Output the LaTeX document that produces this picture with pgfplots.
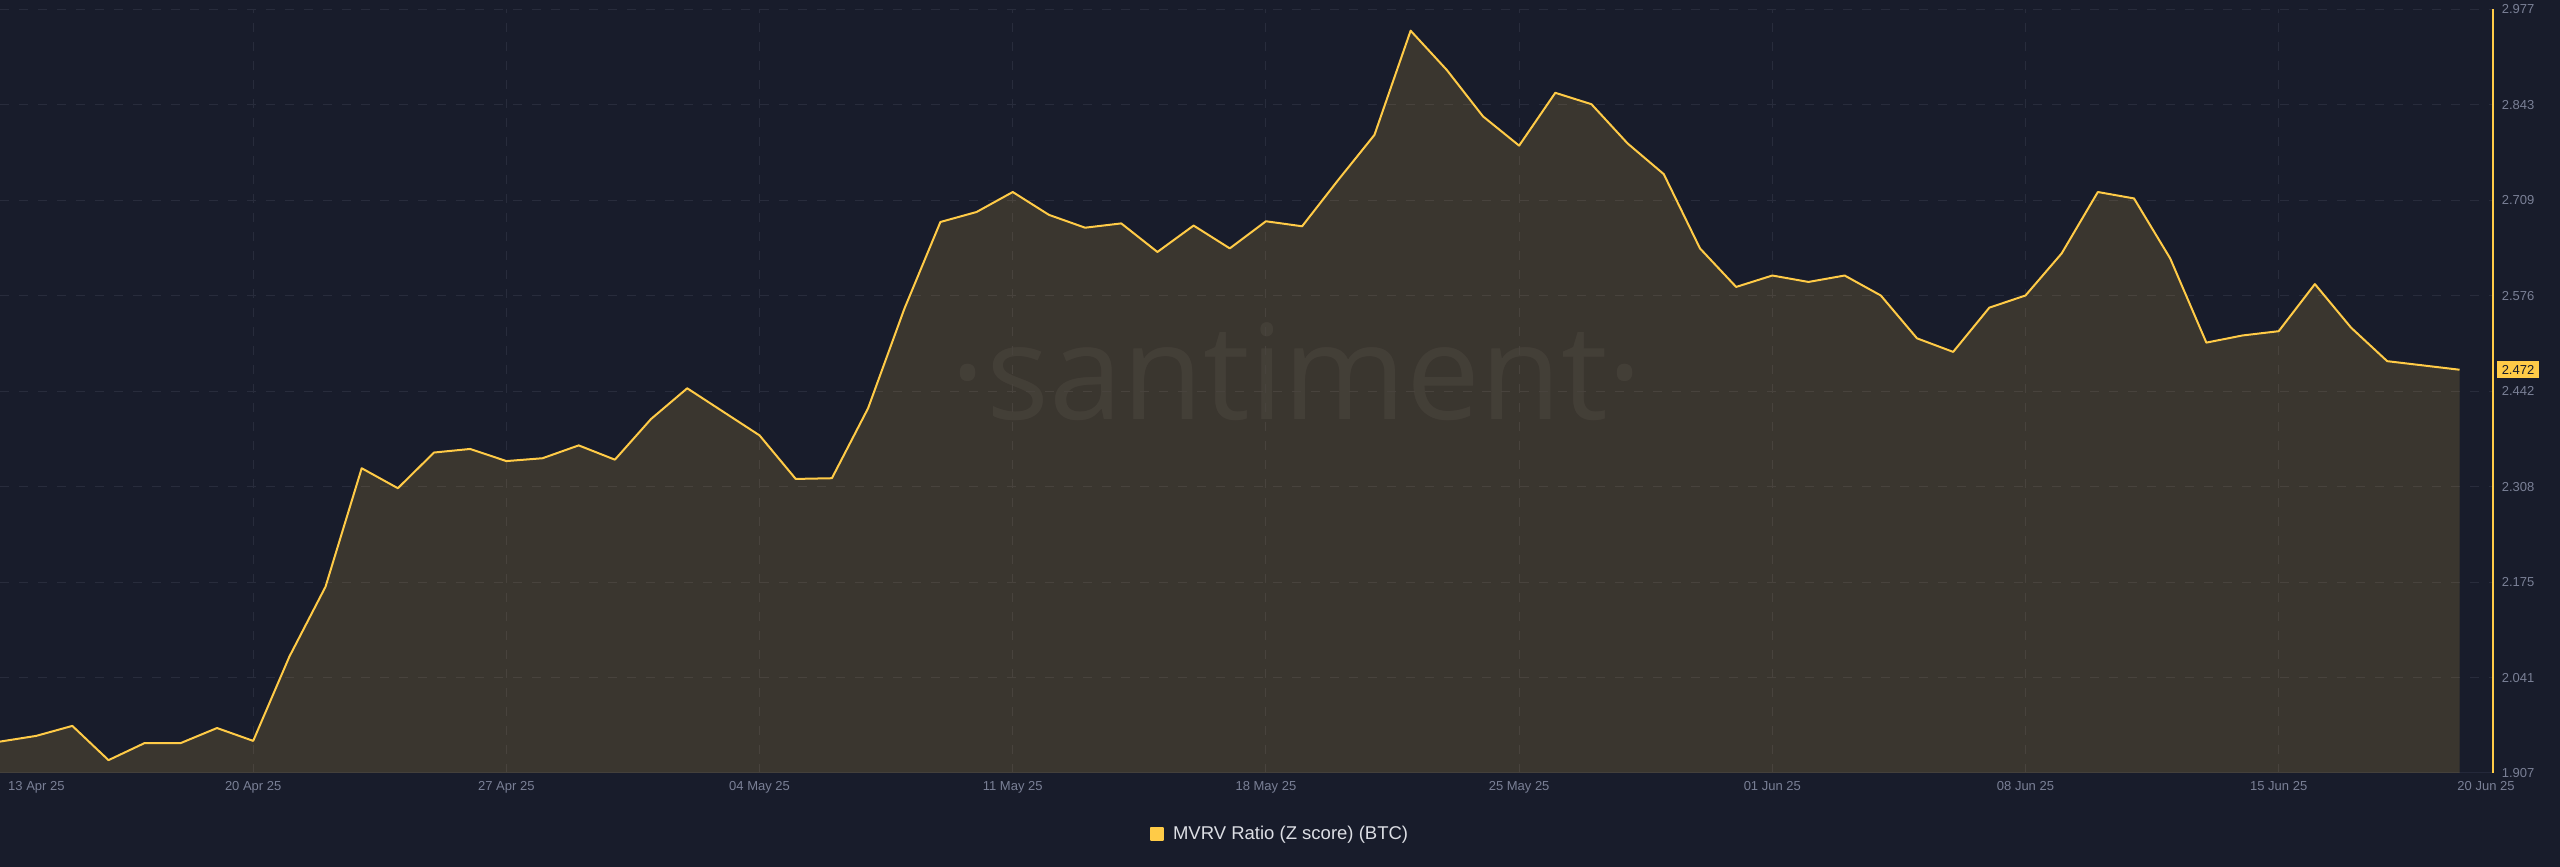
\documentclass[border=0pt]{standalone}
\usepackage{fontspec}
\setmainfont{Liberation Sans}
\newfontfamily\wmfont{Open Sans}
\usepackage{pgfplots}
\usepackage{pgfplotstable}
\pgfplotsset{compat=1.18}

\definecolor{bgnavy}{RGB}{24,28,43}
\definecolor{mvrvyellow}{RGB}{255,203,71}
\definecolor{tickgray}{RGB}{122,128,150}
\definecolor{gridcol}{RGB}{40,44,60}
\definecolor{basecol}{RGB}{36,40,58}
\definecolor{legendtext}{RGB}{220,222,228}

% MVRV Ratio (Z score), one value per day from 13 Apr 25 (day 0) to 20 Jun 25 (day 68)
\pgfplotstableread{
day mvrv
0 1.951
1 1.959
2 1.973
3 1.925
4 1.949
5 1.949
6 1.970
7 1.952
8 2.070
9 2.168
10 2.334
11 2.306
12 2.356
13 2.361
14 2.344
15 2.348
16 2.366
17 2.346
18 2.403
19 2.446
20 2.413
21 2.380
22 2.319
23 2.320
24 2.418
25 2.557
26 2.679
27 2.693
28 2.721
29 2.689
30 2.671
31 2.677
32 2.637
33 2.674
34 2.642
35 2.680
36 2.673
37 2.738
38 2.801
39 2.947
40 2.892
41 2.827
42 2.786
43 2.860
44 2.844
45 2.789
46 2.746
47 2.642
48 2.588
49 2.604
50 2.595
51 2.604
52 2.576
53 2.516
54 2.497
55 2.559
56 2.576
57 2.635
58 2.721
59 2.712
60 2.628
61 2.510
62 2.520
63 2.526
64 2.592
65 2.531
66 2.484
67 2.478
68 2.472
}\mvrvtable

\begin{document}
\begin{tikzpicture}[x=1pt,y=1pt]
\path[use as bounding box, fill=bgnavy] (0,0) rectangle (2560,867);
% watermark
\node[text=white, text opacity=0.05, inner sep=0pt,
      font=\wmfont\fontsize{132}{132}\selectfont] at (1297,495) {·santiment·};

\begin{axis}[
    at={(0pt,94pt)}, anchor=south west,
    scale only axis, width=2493pt, height=763.7pt,
    xmin=0, xmax=68.925,
    ymin=1.907, ymax=2.977,
    axis x line*=bottom, axis y line*=right,
    x axis line style={draw=basecol, line width=1pt},
    y axis line style={draw=mvrvyellow, line width=1.5pt},
    major tick length=0pt,
    xtick={7,14,21,28,35,42,49,56,63},
    xticklabels={20 Apr 25,27 Apr 25,04 May 25,11 May 25,18 May 25,25 May 25,01 Jun 25,08 Jun 25,15 Jun 25},
    ytick={1.907,2.04075,2.1745,2.30825,2.442,2.57575,2.7095,2.84325,2.977},
    yticklabels={1.907,2.041,2.175,2.308,2.442,2.576,2.709,2.843,2.977},
    grid=major,
    major grid style={draw=gridcol, line width=1pt, dash pattern=on 9pt off 10pt},
    xticklabel style={font=\fontsize{13}{13}\selectfont, text=tickgray, inner sep=0pt, yshift=-8.4pt},
    yticklabel style={font=\fontsize{13}{13}\selectfont, text=tickgray, inner sep=0pt, anchor=west, xshift=8.7pt},
    legend style={at={(0.5134,-0.0799)}, anchor=center, draw=none, fill=none,
                  text=legendtext, font=\fontsize{18.5}{20}\selectfont, inner sep=0pt,
                  /tikz/every odd column/.append style={column sep=7pt}},
]
\addplot[draw=none, fill=mvrvyellow, fill opacity=0.15, forget plot]
    table[x=day, y=mvrv] {\mvrvtable} \closedcycle;
\addplot[mvrvyellow, line width=2pt, line join=round,
    legend image code/.code={\fill[mvrvyellow] (0pt,-6.2pt) rectangle (12.4pt,6.2pt);}]
    table[x=day, y=mvrv] {\mvrvtable};
\addlegendentry{MVRV Ratio (Z score) (BTC)}
\end{axis}

% first and last date labels
\node[anchor=north west, inner sep=0pt, text=tickgray, font=\fontsize{13}{13}\selectfont] at (8,85.6) {13 Apr 25};
\node[anchor=north, inner sep=0pt, text=tickgray, font=\fontsize{13}{13}\selectfont] at (2486,85.6) {20 Jun 25};
% last value badge
\node[fill=mvrvyellow, text=bgnavy, inner sep=0pt, minimum width=42pt, minimum height=17.6pt,
      font=\fontsize{13}{13}\selectfont] at (2518,497.5) {2.472};
\end{tikzpicture}
\end{document}
